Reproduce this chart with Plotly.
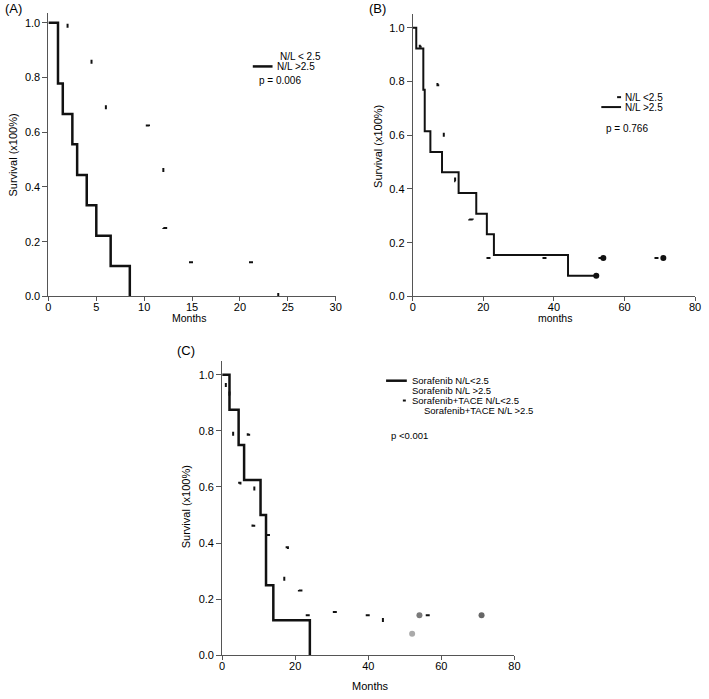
import plotly.graph_objects as go

W, H = 709, 699

# ---------------- data ----------------
# Sorafenib group (panel A, and panel C)
sor_high_t = [0, 1, 1.5, 2.5, 3, 4, 5, 6.5, 8.5]
sor_high_s = [1.0, 0.778, 0.667, 0.556, 0.444, 0.333, 0.222, 0.111, 0.0]
sor_low_t = [0, 2, 4.5, 6, 10.5, 12, 14, 24]
sor_low_s = [1.0, 0.875, 0.75, 0.625, 0.5, 0.25, 0.125, 0.0]

# Sorafenib + TACE group (panel B, and panel C)
tace_high_t = [0, 1, 3, 3.4, 5, 8.3, 13, 18, 21, 23, 44, 52]
tace_high_s = [1.0, 0.923, 0.769, 0.615, 0.538, 0.462, 0.385, 0.308, 0.231, 0.154, 0.077, 0.077]
tace_high_cens_t = [52]
tace_high_cens_s = [0.077]
tace_low_t = [0, 2, 5, 7, 8, 8.4, 8.8, 11, 12, 13.5, 16, 17, 19, 71]
tace_low_s = [1.0, 0.929, 0.857, 0.786, 0.714, 0.643, 0.571, 0.5, 0.429, 0.357, 0.286, 0.214, 0.143, 0.143]
tace_low_cens_t = [54, 71]
tace_low_cens_s = [0.143, 0.143]

y_ticks = [0.0, 0.2, 0.4, 0.6, 0.8, 1.0]
a_x_ticks = [0, 5, 10, 15, 20, 25, 30]
bc_x_ticks = [0, 20, 40, 60, 80]

panel_labels = ["(A)", "(B)", "(C)"]
a_legend = ["N/L < 2.5", "N/L >2.5", "p = 0.006"]
b_legend = ["N/L <2.5", "N/L >2.5", "p = 0.766"]
c_legend = ["Sorafenib N/L<2.5", "Sorafenib N/L >2.5", "Sorafenib+TACE N/L<2.5",
            "Sorafenib+TACE N/L >2.5", "p <0.001"]

# ---------------- helpers ----------------
def px(x):
    return x / W

def py(y):
    return 1 - y / H

FONT = "Liberation Sans, Arial, Helvetica, sans-serif"
INK = "#111111"
AX = "#555555"

fig = go.Figure()

def step(t, s, xa, ya, width, dash="solid", color=INK):
    fig.add_trace(go.Scatter(x=t, y=s, mode="lines", line=dict(shape="hv", width=width, color=color, dash=dash),
                             xaxis=xa, yaxis=ya, showlegend=False, hoverinfo="skip"))

def dots(t, s, xa, ya, colors):
    fig.add_trace(go.Scatter(x=t, y=s, mode="markers", marker=dict(size=6, color=colors),
                             xaxis=xa, yaxis=ya, showlegend=False, hoverinfo="skip"))

# Panel A
step(sor_high_t, sor_high_s, "x", "y", 2.5)
step(sor_low_t, sor_low_s, "x", "y", 2, "0px,20px,4px,36px")
# Panel B
step(tace_high_t, tace_high_s, "x2", "y2", 2)
step(tace_low_t, tace_low_s, "x2", "y2", 2, "0px,24px,4px,28px")
dots(tace_high_cens_t, tace_high_cens_s, "x2", "y2", INK)
dots(tace_low_cens_t, tace_low_cens_s, "x2", "y2", INK)
# Panel C
step(sor_low_t, sor_low_s, "x3", "y3", 2.5)
step(tace_low_t, tace_low_s, "x3", "y3", 2, "0px,24px,4px,32px")
step(tace_high_t, tace_high_s, "x3", "y3", 2, "0px,12px,4px,40px")
dots(tace_high_cens_t, tace_high_cens_s, "x3", "y3", "#aaaaaa")
dots(tace_low_cens_t, tace_low_cens_s, "x3", "y3", ["#7a7a7a", "#666666"])

axis_common = dict(showline=True, linecolor=AX, linewidth=1, ticks="outside", ticklen=5,
                   tickcolor=AX, tickwidth=1, showgrid=False, zeroline=False,
                   tickfont=dict(family=FONT, size=11, color="#000"))

def xa(dom, rng, tv, anchor):
    d = dict(axis_common)
    d.update(domain=[px(dom[0]), px(dom[1])], range=rng, tickvals=tv, anchor=anchor, ticklen=4,
             ticklabelstandoff=-4)
    return d

def ya(dom, rng, anchor):
    d = dict(axis_common)
    d.update(domain=[py(dom[1]), py(dom[0])], range=rng, tickvals=y_ticks, tickformat=".1f", anchor=anchor)
    return d

fig.update_layout(
    width=W, height=H, autosize=False,
    margin=dict(l=0, r=0, t=0, b=0),
    paper_bgcolor="white", plot_bgcolor="white",
    xaxis=xa((46, 337), [0, 30], a_x_ticks, "y"),
    yaxis=ya((13, 299), [0, 286 / 276], "x"),
    xaxis2=xa((415, 701), [0, 80], bc_x_ticks, "y2"),
    yaxis2=ya((14, 299), [0, 285 / 271], "x2"),
    xaxis3=xa((222, 518), [0, 80], bc_x_ticks, "y3"),
    yaxis3=ya((364, 661), [0, 297 / 283], "x3"),
)

ann = []
def text(t, x, y, size=10, anchor="left", angle=0):
    ann.append(dict(text=t, x=px(x), y=py(y), xref="paper", yref="paper", showarrow=False,
                    xanchor=anchor, yanchor="middle", textangle=angle,
                    font=dict(family=FONT, size=size, color="#000")))

# panel labels
text(panel_labels[0], 0, 9, 13)
text(panel_labels[1], 369, 9, 13)
text(panel_labels[2], 174, 354, 13)

# axis titles
text("Survival (x100%)", 10, 156, 11, "center", -90)
text("Survival (x100%)", 380, 148, 11, "center", -90)
text("Survival (x100%)", 185, 511, 11, "center", -90)
text("Months", 188, 321, 10.5, "center")
text("months", 559, 321, 10.5, "center")
text("Months", 372, 692, 11, "center")

# legends
text(a_legend[0], 279, 57, 10)
text(a_legend[1], 276, 67, 10)
text(a_legend[2], 257, 81, 10)
text(b_legend[0], 628, 98, 10)
text(b_legend[1], 628, 108, 10)
text(b_legend[2], 609, 130, 10)
text(c_legend[0], 412, 384, 9.5)
text(c_legend[1], 412, 394, 9.5)
text(c_legend[2], 412, 404, 9.5)
text(c_legend[3], 424, 414, 9.5)
text(c_legend[4], 391, 439, 9.5)
fig.update_layout(annotations=ann)

shapes = []
def sample(x0, x1, y, w):
    shapes.append(dict(type="line", xref="paper", yref="paper", x0=px(x0), x1=px(x1), y0=py(y), y1=py(y),
                       line=dict(color=INK, width=w)))
sample(253, 273, 67, 2.5)
sample(606, 626, 108, 2)
sample(622, 626, 98, 2)
sample(388, 409, 384, 2.5)
sample(405, 408, 404, 2)
fig.update_layout(shapes=shapes)

fig.write_html("out.html", config={"displayModeBar": False, "staticPlot": True},
               post_script="document.body.style.margin='0px';document.body.style.overflow='hidden';")
